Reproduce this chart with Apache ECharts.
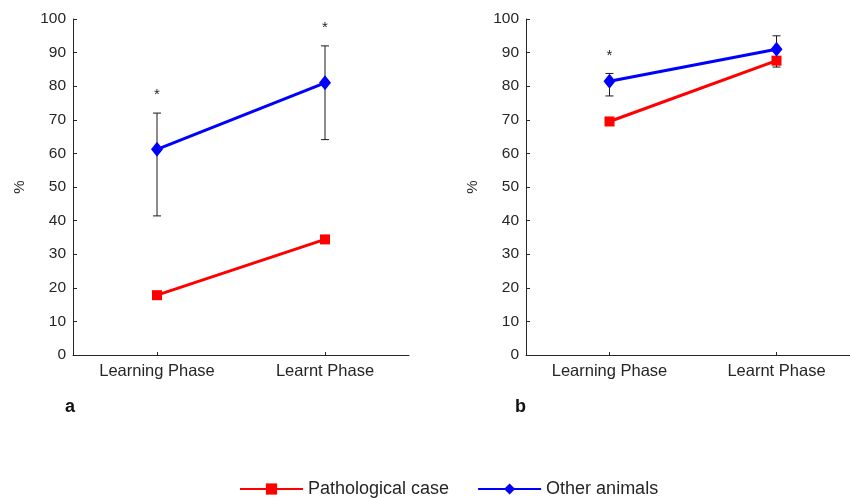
<!DOCTYPE html>
<html>
<head>
<meta charset="utf-8">
<script src="https://cdn.jsdelivr.net/npm/echarts@6/dist/echarts.min.js"></script>
<style>html,body{margin:0;padding:0;background:#fff;overflow:hidden;width:850px;height:498px}#c{width:880px;height:498px}</style>
</head>
<body>
<div id="c"></div>
<script>
var categories = ['Learning Phase', 'Learnt Phase'];
var yTicks = {min: 0, max: 100, interval: 10};
// Panel a
var pathA = [17.8, 34.4];
var otherA = [61.2, 81.0];
var errLowA = [41.4, 64.1];
var errHighA = [72.0, 92.0];
var starA = [78.2, 98.2];
// Panel b
var pathB = [69.5, 87.6];
var otherB = [81.5, 91.0];
var errLowB = [77.1, 85.7];
var errHighB = [83.8, 95.0];
var starB = [90.0, null];
var seriesNames = ['Pathological case', 'Other animals'];

var FONT = 'Liberation Sans, Arial, Helvetica, sans-serif';
var TXT = '#262626';

function errData(lo, hi) {
  return lo.map(function (v, i) { return [i, v, hi[i]]; });
}
function starData(s) {
  var out = [];
  s.forEach(function (v, i) { if (v != null) out.push([i, v]); });
  return out;
}
function errRender(params, api) {
  var i = api.value(0);
  var lo = api.coord([i, api.value(1)]);
  var hi = api.coord([i, api.value(2)]);
  var w = 4;
  var st = {stroke: '#1a1a1a', lineWidth: 1};
  return {
    type: 'group',
    children: [
      {type: 'line', shape: {x1: lo[0], y1: lo[1], x2: hi[0], y2: hi[1]}, style: st},
      {type: 'line', shape: {x1: lo[0] - w, y1: lo[1], x2: lo[0] + w, y2: lo[1]}, style: st},
      {type: 'line', shape: {x1: hi[0] - w, y1: hi[1], x2: hi[0] + w, y2: hi[1]}, style: st}
    ]
  };
}
function starRender(params, api) {
  var p = api.coord([api.value(0), api.value(1)]);
  return {
    type: 'text',
    style: {text: '*', x: p[0], y: p[1] + 3, align: 'center', verticalAlign: 'middle',
      fill: TXT, font: '15px ' + FONT}
  };
}

function xAx(idx) {
  return {
    type: 'category', gridIndex: idx, data: categories, boundaryGap: true,
    axisLine: {lineStyle: {color: TXT, width: 1}},
    axisTick: {show: true, inside: true, alignWithLabel: true, length: 3, lineStyle: {color: TXT}},
    axisLabel: {color: TXT, fontSize: 16.5, fontFamily: FONT, margin: 8},
    splitLine: {show: false}
  };
}
function yAx(idx) {
  return {
    type: 'value', gridIndex: idx, min: yTicks.min, max: yTicks.max, interval: yTicks.interval,
    name: '%', nameLocation: 'middle', nameGap: 46, nameRotate: 90,
    nameTextStyle: {color: TXT, fontSize: 15, fontFamily: FONT},
    axisLine: {show: true, lineStyle: {color: TXT, width: 1}},
    axisTick: {show: true, inside: true, length: 4, lineStyle: {color: TXT}},
    axisLabel: {color: TXT, fontSize: 15.5, fontFamily: FONT, margin: 7},
    splitLine: {show: false}
  };
}
function lineSeries(name, color, symbol, size, data, idx) {
  return {
    name: name, type: 'line', xAxisIndex: idx, yAxisIndex: idx, data: data,
    symbol: symbol, symbolSize: size, showAllSymbol: true,
    lineStyle: {color: color, width: 3}, itemStyle: {color: color},
    z: 3, animation: false
  };
}

var chart = echarts.init(document.getElementById('c'), null, {renderer: 'canvas'});
chart.setOption({
  animation: false,
  backgroundColor: '#ffffff',
  grid: [
    {left: 73, top: 19, width: 336, height: 336},
    {left: 526, top: 19, width: 334, height: 336}
  ],
  xAxis: [xAx(0), xAx(1)],
  yAxis: [yAx(0), yAx(1)],
  legend: {
    data: seriesNames, top: 475, left: 234, itemWidth: 63, itemHeight: 14, itemGap: 28,
    textStyle: {color: TXT, fontSize: 18, fontFamily: FONT}
  },
  graphic: [
    {type: 'text', left: 65, top: 398, style: {text: 'a', fill: '#111', font: 'bold 18px ' + FONT}},
    {type: 'text', left: 515, top: 398, style: {text: 'b', fill: '#111', font: 'bold 18px ' + FONT}}
  ],
  series: [
    {type: 'custom', xAxisIndex: 0, yAxisIndex: 0, renderItem: errRender, data: errData(errLowA, errHighA), z: 2, silent: true},
    {type: 'custom', xAxisIndex: 1, yAxisIndex: 1, renderItem: errRender, data: errData(errLowB, errHighB), z: 2, silent: true},
    {type: 'custom', xAxisIndex: 0, yAxisIndex: 0, renderItem: starRender, data: starData(starA), z: 2, silent: true},
    {type: 'custom', xAxisIndex: 1, yAxisIndex: 1, renderItem: starRender, data: starData(starB), z: 2, silent: true},
    lineSeries(seriesNames[0], '#ff0000', 'rect', 10, pathA, 0),
    lineSeries(seriesNames[1], '#0000ff', 'diamond', [12, 15], otherA, 0),
    lineSeries(seriesNames[0], '#ff0000', 'rect', 10, pathB, 1),
    lineSeries(seriesNames[1], '#0000ff', 'diamond', [12, 15], otherB, 1)
  ]
});
</script>
</body>
</html>
